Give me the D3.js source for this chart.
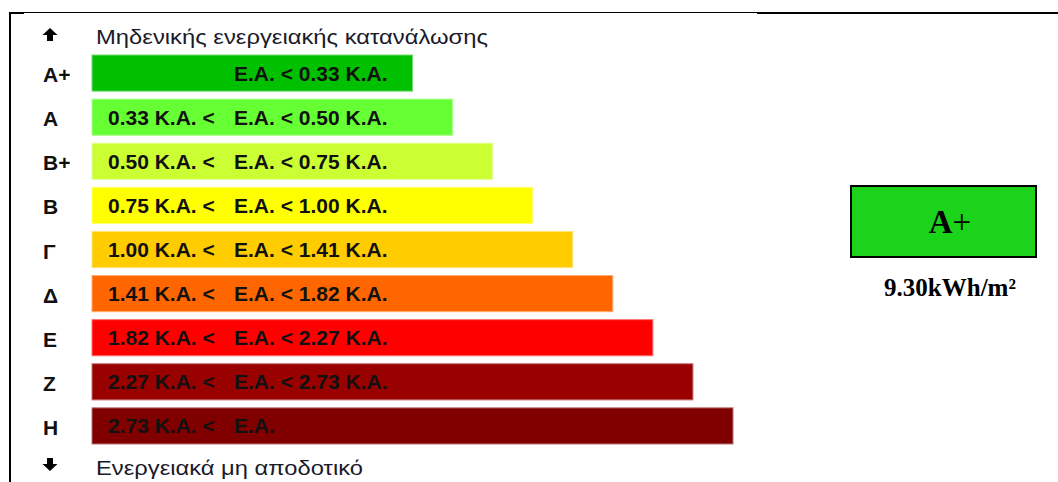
<!DOCTYPE html>
<html>
<head>
<meta charset="utf-8">
<script src="https://cdn.jsdelivr.net/npm/d3@7/dist/d3.min.js"></script>
<style>
  html, body { margin: 0; padding: 0; background: #fff; }
  svg { display: block; }
</style>
</head>
<body>
<svg id="chart" width="1058" height="482"></svg>
<script>
// ---- data ----
const classes = ["A+", "A", "B+", "B", "Γ", "Δ", "Ε", "Ζ", "Η"];
const lowerBounds = [null, "0.33", "0.50", "0.75", "1.00", "1.41", "1.82", "2.27", "2.73"];
const upperBounds = ["0.33", "0.50", "0.75", "1.00", "1.41", "1.82", "2.27", "2.73", null];
const barLengths = [8, 9, 10, 11, 12, 13, 14, 15, 16];
const barColors = ["#00c000", "#66ff33", "#ccff33", "#ffff00", "#ffcc00", "#ff6600", "#ff0000", "#990000", "#800000"];
const topCaption = "Μηδενικής ενεργειακής κατανάλωσης";
const bottomCaption = "Ενεργειακά μη αποδοτικό";
const ratingClass = "A+";
const ratingValue = "9.30kWh/m²";
const ratingColor = "#1ad31a";

// ---- layout ----
const svg = d3.select("#chart");
const x = d3.scaleLinear().domain([0, 16]).range([92, 733]);
const y = d3.scaleBand().domain(classes).range([55, 444]).paddingInner(0.18).paddingOuter(0);

// frame lines
svg.append("line").attr("x1", 24).attr("x2", 757).attr("y1", 12.5).attr("y2", 12.5)
  .attr("stroke", "#000").attr("stroke-width", 1);
svg.append("line").attr("x1", 9).attr("x2", 24).attr("y1", 13).attr("y2", 13)
  .attr("stroke", "#000").attr("stroke-width", 2);
svg.append("line").attr("x1", 757).attr("x2", 1058).attr("y1", 13).attr("y2", 13)
  .attr("stroke", "#000").attr("stroke-width", 2);
svg.append("line").attr("x1", 10).attr("x2", 10).attr("y1", 12).attr("y2", 482)
  .attr("stroke", "#000").attr("stroke-width", 2);

// arrows
function arrow(cx, cy, dir) {
  const pts = [[-7.5, 0], [0, -7], [7.5, 0], [3, 0], [3, 6], [-3, 6], [-3, 0]];
  const p = pts.map(([px, py]) => [cx + px, cy + py * (dir < 0 ? 1 : -1)]);
  svg.append("path").attr("d", "M" + p.map(d => d.join(",")).join("L") + "Z").attr("fill", "#000");
}
arrow(50, 35, -1);
arrow(50, 464, 1);

svg.append("text").attr("x", 96).attr("y", 44)
  .attr("font-family", "Liberation Sans, Arial, sans-serif").attr("font-size", 21)
  .attr("fill", "#1a1a2a").attr("textLength", 392).attr("lengthAdjust", "spacingAndGlyphs")
  .text(topCaption);
svg.append("text").attr("x", 96).attr("y", 475)
  .attr("font-family", "Liberation Sans, Arial, sans-serif").attr("font-size", 21)
  .attr("fill", "#1a1a2a").attr("textLength", 267).attr("lengthAdjust", "spacingAndGlyphs")
  .text(bottomCaption);

// class letters via axis
const yAxis = svg.append("g").attr("transform", "translate(43,0)")
  .call(d3.axisLeft(y).tickSize(0).tickPadding(0));
yAxis.attr("font-size", null).attr("font-family", null);
yAxis.select(".domain").remove();
yAxis.selectAll("text")
  .attr("text-anchor", "start").attr("x", 0).attr("dy", null).attr("y", 9)
  .style("font-family", "Liberation Sans, Arial, sans-serif").style("font-size", "21px")
  .style("font-weight", "bold").attr("fill", "#111");

// bars
const rows = classes.map((c, i) => ({ c, lo: lowerBounds[i], hi: upperBounds[i], len: barLengths[i], color: barColors[i] }));
const g = svg.append("g");
g.selectAll("rect.bar").data(rows).join("rect")
  .attr("class", "bar")
  .attr("x", x(0)).attr("y", d => y(d.c))
  .attr("width", d => x(d.len) - x(0)).attr("height", y.bandwidth())
  .attr("fill", d => d.color)
  .attr("stroke", d => d3.interpolateRgb(d.color, "#ffffff")(0.45)).attr("stroke-width", 1);

const labelFont = "Liberation Sans, Arial, sans-serif";
g.selectAll("text.lo").data(rows.filter(d => d.lo)).join("text")
  .attr("class", "lo")
  .attr("x", x(0) + 16).attr("y", d => y(d.c) + y.bandwidth() / 2 + 7.5)
  .attr("font-family", labelFont).attr("font-size", 21).attr("font-weight", "bold").attr("fill", "#111")
  .text(d => d.lo + " K.A. <");
g.selectAll("text.hi").data(rows).join("text")
  .attr("class", "hi")
  .attr("x", 234).attr("y", d => y(d.c) + y.bandwidth() / 2 + 7.5)
  .attr("font-family", labelFont).attr("font-size", 21).attr("font-weight", "bold").attr("fill", "#111")
  .text(d => d.hi ? "E.A. < " + d.hi + " K.A." : "E.A.");

// rating box
svg.append("rect").attr("x", 851).attr("y", 186).attr("width", 185).attr("height", 71)
  .attr("fill", ratingColor).attr("stroke", "#000").attr("stroke-width", 2);
const rt = svg.append("text").attr("x", 950).attr("y", 233).attr("text-anchor", "middle")
  .attr("font-family", "Liberation Serif, Times New Roman, serif").attr("font-size", 33).attr("fill", "#000");
rt.append("tspan").attr("font-weight", "bold").text(ratingClass.slice(0, 1));
rt.append("tspan").text(ratingClass.slice(1));
svg.append("text").attr("x", 950).attr("y", 296).attr("text-anchor", "middle")
  .attr("font-family", "Liberation Serif, Times New Roman, serif").attr("font-size", 25)
  .attr("font-weight", "bold").attr("fill", "#000").text(ratingValue);
</script>
</body>
</html>
